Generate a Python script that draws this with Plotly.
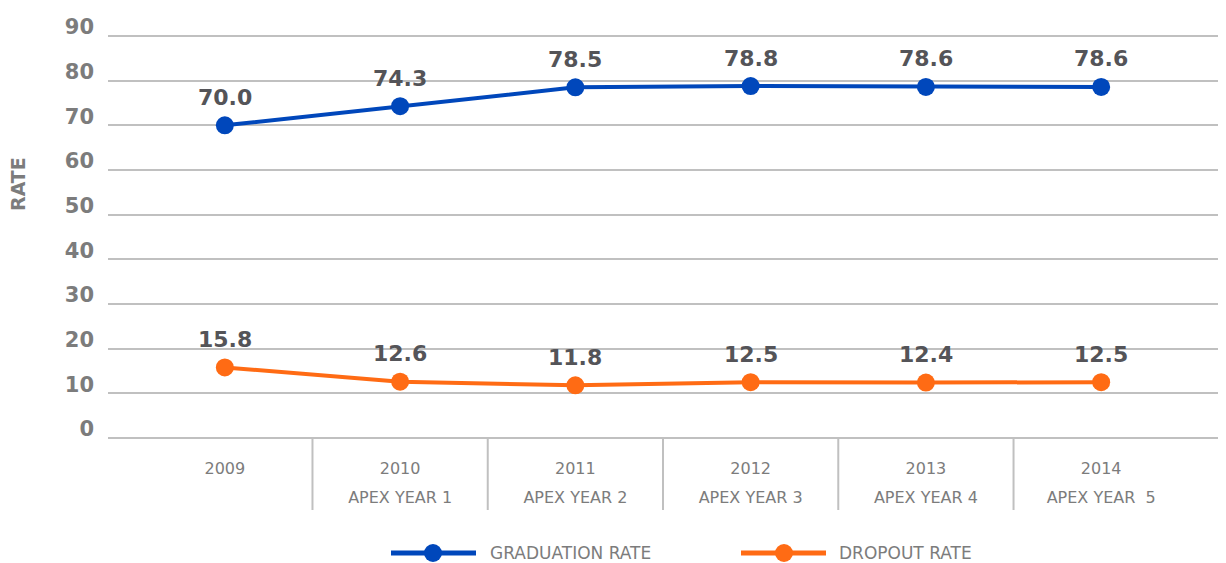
import plotly.graph_objects as go

years = ["2009", "2010", "2011", "2012", "2013", "2014"]
subtitles = ["", "APEX YEAR 1", "APEX YEAR 2", "APEX YEAR 3", "APEX YEAR 4", "APEX YEAR  5"]
graduation = [70.0, 74.3, 78.5, 78.8, 78.6, 78.6]
dropout = [15.8, 12.6, 11.8, 12.5, 12.4, 12.5]
y_ticks = [0, 10, 20, 30, 40, 50, 60, 70, 80, 90]
series_names = ["GRADUATION RATE", "DROPOUT RATE"]

BLUE = "#0047BB"
ORANGE = "#FF6B14"
GRID = "#C0C0C0"
TICK = "#7C7C7C"
LABEL = "#545458"
FONT = "'DejaVu Sans', sans-serif"

# page geometry (the page body has an 8px margin)
OFF = 8
L, R, T, B = 108, 1226, 34, 440   # plot area in page pixels
W, H = 1226 - OFF, 563 - OFF
PAD = 0.45


def px(xp):
    return (xp - L) / (R - L)


def py(yp):
    return (B - yp) / (B - T)


xpos = list(range(len(years)))
xrange_ = [-(225 - L) / 175.5, 5 + (R - 1101) / 175.5]

fig = go.Figure()
for vals, color, name in [(graduation, BLUE, series_names[0]), (dropout, ORANGE, series_names[1])]:
    fig.add_trace(go.Scatter(
        x=xpos, y=vals, mode="lines+markers", name=name,
        line=dict(color=color, width=4),
        marker=dict(color=color, size=18),
        showlegend=False, hoverinfo="skip",
    ))
# invisible trace to activate second x axis (subtitle line)
fig.add_trace(go.Scatter(x=xpos, y=[None] * len(xpos), xaxis="x2", showlegend=False,
                         hoverinfo="skip", mode="markers"))

annotations = []
for vals in (graduation, dropout):
    for xi, v in zip(xpos, vals):
        annotations.append(dict(
            x=xi, y=v, xref="x", yref="y", text=f"<b>{v:.1f}</b>",
            showarrow=False, yshift=28,
            font=dict(family=FONT, size=22, color=LABEL),
        ))

annotations.append(dict(
    x=px(18), y=py(184), xref="paper", yref="paper", text="<b>RATE</b>",
    showarrow=False, textangle=-90, xanchor="center", yanchor="middle",
    font=dict(family=FONT, size=19, color=TICK),
))

shapes = []
for i in range(len(years) - 1):
    shapes.append(dict(
        type="line", xref="x", yref="paper",
        x0=i + 0.5, x1=i + 0.5, y0=py(438), y1=py(510),
        line=dict(color=GRID, width=2),
    ))

legend_y = py(553)
legend_items = [(series_names[0], BLUE, 391, 476, 433, 488),
                (series_names[1], ORANGE, 741, 826, 784, 837)]
for name, color, x0, x1, cx, tx in legend_items:
    shapes.append(dict(
        type="line", xref="paper", yref="paper",
        x0=px(x0), x1=px(x1), y0=legend_y, y1=legend_y,
        line=dict(color=color, width=5),
    ))
    shapes.append(dict(
        type="circle", xref="paper", yref="paper",
        xsizemode="pixel", ysizemode="pixel",
        xanchor=px(cx), yanchor=legend_y,
        x0=-9, x1=9, y0=-9, y1=9,
        fillcolor=color, line=dict(color=color, width=0),
    ))
    annotations.append(dict(
        x=px(tx), y=legend_y, xref="paper", yref="paper",
        text=name, showarrow=False, xanchor="left", yanchor="middle",
        font=dict(family=FONT, size=17, color=TICK),
    ))

fig.update_layout(
    width=W, height=H,
    margin=dict(l=L - OFF, r=0, t=T - OFF, b=563 - B, pad=0),
    paper_bgcolor="white", plot_bgcolor="white",
    font=dict(family=FONT, color=TICK),
    xaxis=dict(
        range=xrange_,
        tickmode="array", tickvals=xpos, ticktext=years,
        tickfont=dict(family=FONT, size=16, color=TICK),
        showgrid=False, zeroline=False, showline=False, ticks="",
        ticklabelstandoff=17,
    ),
    xaxis2=dict(
        range=xrange_, overlaying="x", side="bottom", anchor="y",
        tickmode="array", tickvals=xpos, ticktext=subtitles,
        tickfont=dict(family=FONT, size=16, color=TICK),
        showgrid=False, zeroline=False, showline=False, ticks="",
        ticklabelstandoff=46,
    ),
    yaxis=dict(
        range=[-PAD, 90 + PAD], tickmode="array", tickvals=y_ticks,
        ticktext=[f"<b>{t}</b>" for t in y_ticks],
        tickfont=dict(family=FONT, size=21, color=TICK),
        showgrid=True, gridcolor=GRID, gridwidth=2,
        zeroline=False, showline=False, ticks="",
        ticklabelstandoff=13, ticklabelshift=-9,
    ),
    annotations=annotations,
    shapes=shapes,
)

fig.write_html("out.html")
